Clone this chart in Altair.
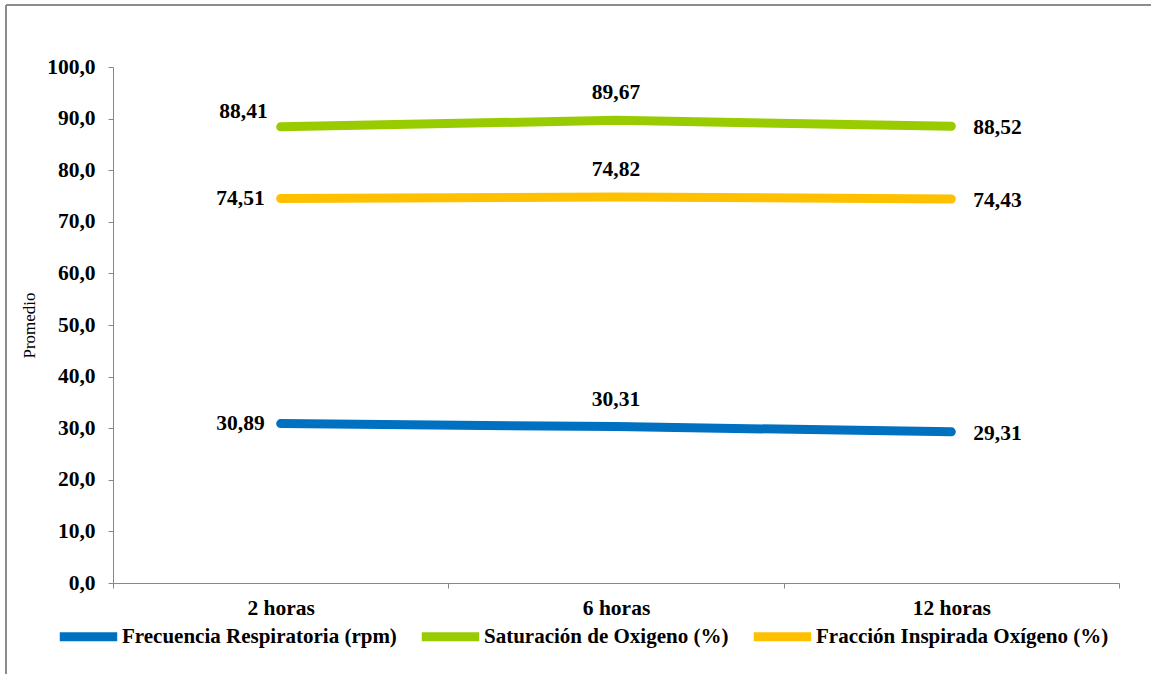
import altair as alt
import pandas as pd

# Mean values per time point
tiempos = ["2 horas", "6 horas", "12 horas"]
series = [
    "Frecuencia Respiratoria (rpm)",
    "Saturación de Oxigeno (%)",
    "Fracción Inspirada Oxígeno (%)",
]
frecuencia = [30.89, 30.31, 29.31]
saturacion = [88.41, 89.67, 88.52]
fraccion = [74.51, 74.82, 74.43]
colores = ["#0070C0", "#99CC00", "#FFC000"]

rows = []
for name, vals in zip(series, [frecuencia, saturacion, fraccion]):
    for i, (t, v) in enumerate(zip(tiempos, vals)):
        rows.append({"tiempo": t, "serie": name, "valor": v, "idx": i})
df = pd.DataFrame(rows)

FONT = "'Liberation Serif', 'Times New Roman', serif"
FS = 21.5

base = alt.Chart(df).encode(
    x=alt.X(
        "tiempo:N",
        sort=tiempos,
        scale=alt.Scale(paddingInner=0, paddingOuter=0),
        axis=alt.Axis(
            title=None,
            labelAngle=0,
            tickBand="extent",
            tickSize=5,
            labelPadding=9,
            domainColor="#888888",
            tickColor="#888888",
            labelFont=FONT,
            labelFontSize=FS,
            labelFontWeight="bold",
            labelColor="black",
        ),
    ),
    y=alt.Y(
        "valor:Q",
        scale=alt.Scale(domain=[0, 100], nice=False),
        axis=alt.Axis(
            title="Promedio",
            values=list(range(0, 101, 10)),
            labelExpr="replace(format(datum.value, '.1f'), '.', ',')",
            grid=False,
            tickSize=5,
            labelPadding=13,
            domainColor="#888888",
            tickColor="#888888",
            labelFont=FONT,
            labelFontSize=FS,
            labelFontWeight="bold",
            labelColor="black",
            titleFont=FONT,
            titleFontSize=17,
            titleFontWeight="normal",
            titleColor="black",
            titlePadding=8,
        ),
    ),
)

color = alt.Color(
    "serie:N",
    sort=series,
    scale=alt.Scale(domain=series, range=colores),
    legend=alt.Legend(
        title=None,
        orient="none",
        direction="horizontal",
        legendX=-58,
        legendY=536,
        symbolType="stroke",
        symbolStrokeWidth=9,
        symbolSize=3300,
        labelFont=FONT,
        labelFontSize=21,
        labelFontWeight="bold",
        labelColor="black",
        labelOffset=0,
        columnPadding=6,
        labelLimit=400,
    ),
)

lines = base.mark_line(strokeWidth=9, strokeCap="round", strokeJoin="round").encode(
    color=color
)

label_txt = "replace(format(datum.valor, '.2f'), '.', ',')"
text_style = dict(font=FONT, fontSize=FS, fontWeight="bold", color="black")

left_labels = (
    base.transform_filter("datum.idx == 0 && datum.serie != 'Saturación de Oxigeno (%)'")
    .transform_calculate(lbl=label_txt)
    .mark_text(align="right", baseline="middle", dx=-16, **text_style)
    .encode(text="lbl:N")
)
left_top = (
    base.transform_filter("datum.idx == 0 && datum.serie == 'Saturación de Oxigeno (%)'")
    .transform_calculate(lbl=label_txt)
    .mark_text(align="right", baseline="middle", dx=-13, dy=-15, **text_style)
    .encode(text="lbl:N")
)
mid_labels = (
    base.transform_filter("datum.idx == 1")
    .transform_calculate(lbl=label_txt)
    .mark_text(align="center", baseline="middle", dy=-27, **text_style)
    .encode(text="lbl:N")
)
right_labels = (
    base.transform_filter("datum.idx == 2")
    .transform_calculate(lbl=label_txt)
    .mark_text(align="left", baseline="middle", dx=22, dy=2, **text_style)
    .encode(text="lbl:N")
)

# Outer frame (left and top edges)
frame_left = alt.Chart(pd.DataFrame({"a": [0]})).mark_rule(
    color="#8c8c8c", strokeWidth=2
).encode(x=alt.value(-107), y=alt.value(-62), y2=alt.value(610))
frame_top = alt.Chart(pd.DataFrame({"a": [0]})).mark_rule(
    color="#8c8c8c", strokeWidth=2
).encode(x=alt.value(-107), x2=alt.value(1045), y=alt.value(-62))

chart = (
    alt.layer(frame_left, frame_top, lines, left_labels, left_top, mid_labels, right_labels)
    .properties(
        width=1006,
        height=516,
        autosize=alt.AutoSizeParams(type="none"),
        padding={"left": 113, "top": 67, "right": 32, "bottom": 91},
        background="white",
    )
    .configure_view(stroke=None)
)

chart.save("out.html", embed_options={"renderer": "svg", "actions": False})
